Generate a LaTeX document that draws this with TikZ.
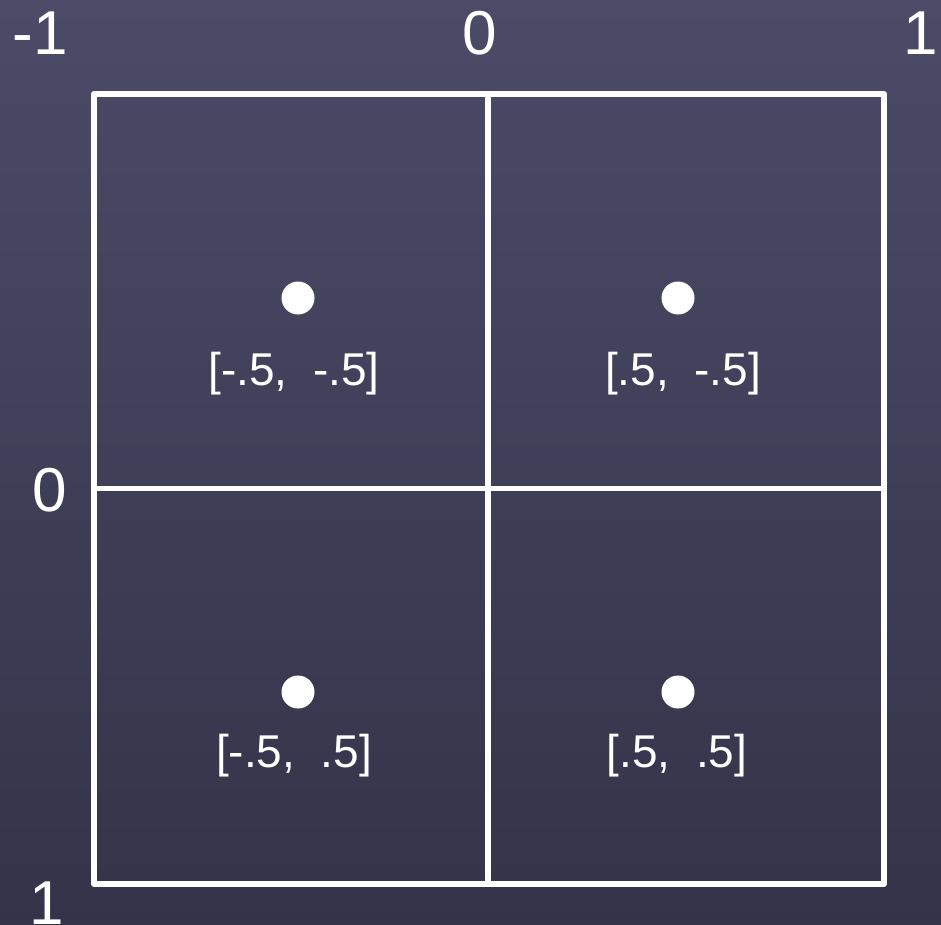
\documentclass[tikz,border=0pt]{standalone}
\usepackage{fontspec}
\setmainfont{Liberation Sans}
\definecolor{bgtop}{RGB}{75,75,104}
\definecolor{bgbot}{RGB}{52,51,73}
\begin{document}
\begin{tikzpicture}[x=1pt,y=-1pt,
  gridline/.style={draw=white,line width=5.5pt,line join=round},
  bigtick/.style={text=white,font=\fontsize{62}{62}\selectfont,inner sep=0pt},
  ptlabel/.style={text=white,font=\fontsize{46}{46}\selectfont,inner sep=0pt},
  ptdot/.style={circle,fill=white,minimum size=33pt,inner sep=0pt}]
\shade[top color=bgtop,bottom color=bgbot] (0,0) rectangle (941,924);
\useasboundingbox (0,0) rectangle (941,924);
\coordinate (tl) at (94,94);
\coordinate (br) at (884,884);
\coordinate (tm) at (488,94);
\coordinate (bm) at (488,884);
\coordinate (lm) at (94,488.5);
\coordinate (rm) at (884,488.5);
\draw[gridline] (tl) rectangle (br);
\draw[gridline] (tm) -- (bm);
\draw[gridline] (lm) -- (rm);
\node[bigtick] (xm1) at (40,33) {-1};
\node[bigtick] (x0) at (480,33) {0};
\node[bigtick] (x1) at (921,33) {1};
\node[bigtick] (y0) at (50,490) {0};
\node[bigtick] (y1) at (47,903) {1};
\node[ptdot] (d1) at (298,298) {};
\node[ptdot] (d2) at (678,298) {};
\node[ptdot] (d3) at (298,692) {};
\node[ptdot] (d4) at (678,692) {};
\node[ptlabel] (l1) at (294,374) {[-.5,\ \ -.5]};
\node[ptlabel] (l2) at (683,374) {[.5,\ \ -.5]};
\node[ptlabel] (l3) at (294,756) {[-.5,\ \ .5]};
\node[ptlabel] (l4) at (677,756) {[.5,\ \ .5]};
\end{tikzpicture}
\end{document}
